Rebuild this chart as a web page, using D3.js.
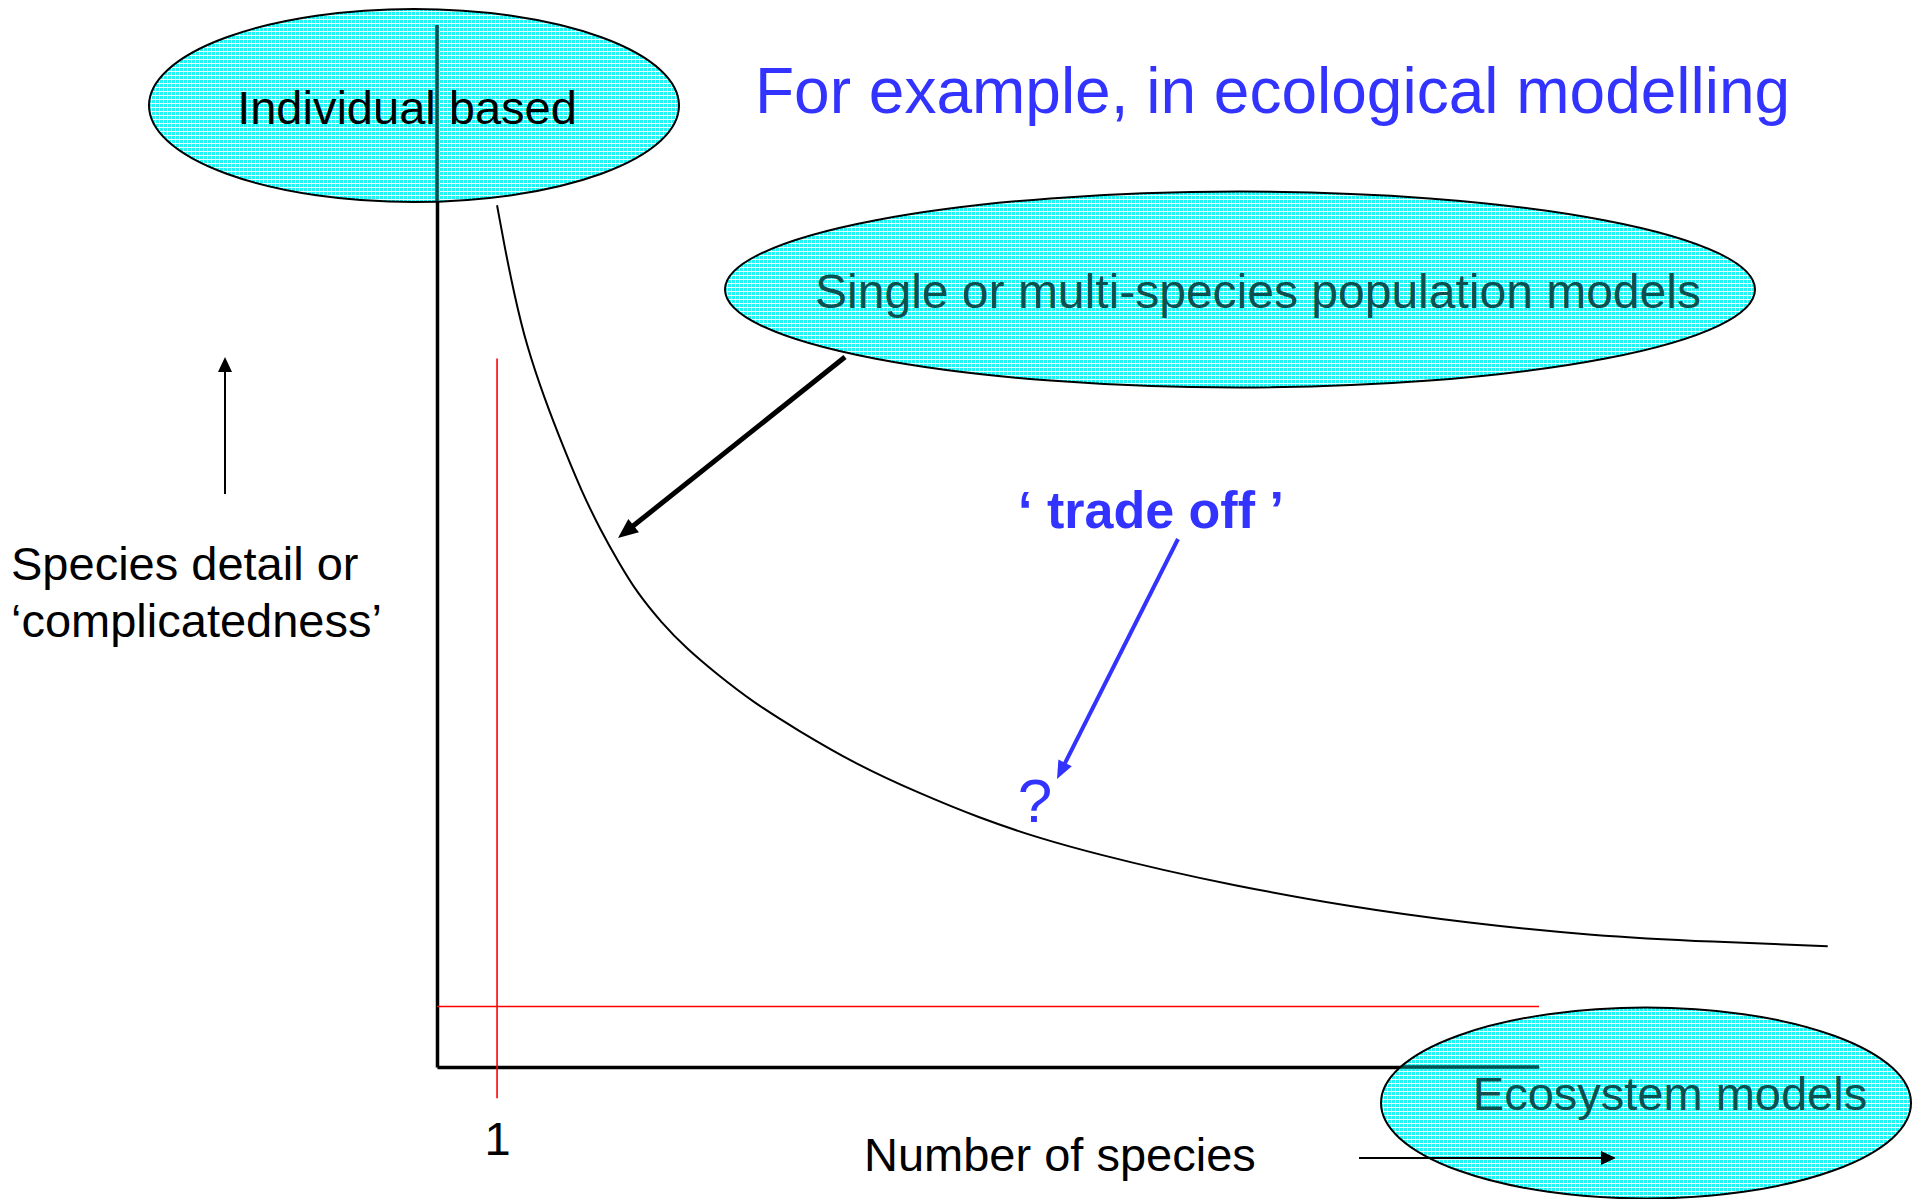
<!DOCTYPE html>
<html>
<head>
<meta charset="utf-8">
<script src="https://cdn.jsdelivr.net/npm/d3@7"></script>
<style>
  html, body { margin: 0; padding: 0; background: #fff; }
  svg { display: block; font-family: "Liberation Sans", Arial, Helvetica, sans-serif; }
</style>
</head>
<body>
<svg id="chart" width="1920" height="1199"></svg>
<script>
// --- data (axis units 0-100) ---
const speciesCount  = [5.45, 6.1, 7.0, 8.1, 9.8, 11.5, 13.1, 14.8, 16.5, 18.1, 20.4, 22.6, 25.4, 28.7, 32.6, 38.1, 43.7, 49.2, 54.8, 60.4, 65.9, 71.5, 82.6, 93.7, 104.8, 115.9, 126.2];
const speciesDetail = [82.7, 78.9, 74.2, 69.3, 64.0, 59.4, 55.3, 51.6, 48.4, 45.6, 42.6, 40.2, 37.7, 35.0, 32.4, 29.0, 26.3, 23.9, 21.9, 20.3, 18.9, 17.6, 15.4, 13.8, 12.6, 12.0, 11.6];
const xTickValues = [5.45];
const xTickLabels = ["1"];
const refDetail = [5.8];          // red horizontal reference level
const refSpan = [68, -3];         // red vertical reference extent
const modelLabels = ["Individual based", "Single or multi-species population models", "Ecosystem models"];
const titleText = "For example, in ecological modelling";
const yLabelLines = ["Species detail or", "\u2018complicatedness\u2019"];
const xLabelText = "Number of species";
const tradeOffText = "\u2018 trade off \u2019";

const BLUE = "#3333ff";
const TEAL_TEXT = "#0e4f4f";

const svg = d3.select("#chart");

// 1. scales
const x = d3.scaleLinear().domain([0, 100]).range([437, 1539]);
const y = d3.scaleLinear().domain([0, 100]).range([1067, 25]);

// 2. pattern for the ellipses (cyan grid, see-through gaps)
const defs = svg.append("defs");
const pat = defs.append("pattern")
    .attr("id", "grid")
    .attr("width", 4).attr("height", 4)
    .attr("patternUnits", "userSpaceOnUse");
pat.append("rect").attr("width", 4).attr("height", 4).attr("fill", "#c8ffff").attr("fill-opacity", 0.5);
pat.append("rect").attr("width", 3).attr("height", 3).attr("fill", "#1ef5f5");

const ellipses = [
    { cx: 414, cy: 105.5, rx: 265, ry: 96.5, tx: 407, ty: 124, color: "#000" },
    { cx: 1240, cy: 289.5, rx: 515, ry: 98, tx: 1258, ty: 308, color: TEAL_TEXT },
    { cx: 1646, cy: 1103, rx: 265, ry: 95.5, tx: 1670, ty: 1110, color: TEAL_TEXT }
];
const clip = defs.append("clipPath").attr("id", "inEllipse");
ellipses.forEach(e => {
    clip.append("ellipse").attr("cx", e.cx).attr("cy", e.cy).attr("rx", e.rx).attr("ry", e.ry);
});

// 3. axes
const xAxis = d3.axisBottom(x)
    .tickValues(xTickValues)
    .tickFormat((d, i) => xTickLabels[i])
    .tickSize(0)
    .tickSizeOuter(0)
    .tickPadding(55);
const gx = svg.append("g")
    .attr("transform", `translate(0,${y(0)})`)
    .call(xAxis);
gx.select(".domain").attr("stroke", "#000").attr("stroke-width", 3.5);
gx.selectAll("text")
    .attr("font-size", 47)
    .attr("font-family", "Liberation Sans, Arial, sans-serif")
    .attr("fill", "#000");

const gy = svg.append("g")
    .attr("transform", `translate(${x(0)},0)`)
    .call(d3.axisLeft(y).tickValues([]).tickSizeOuter(0));
gy.select(".domain").attr("stroke", "#000").attr("stroke-width", 3.5);

// 4. red reference lines
svg.append("line")
    .attr("x1", x(xTickValues[0])).attr("x2", x(xTickValues[0]))
    .attr("y1", y(refSpan[0])).attr("y2", y(refSpan[1]))
    .attr("stroke", "#ff0000").attr("stroke-width", 1.6);
svg.append("line")
    .attr("x1", x(0)).attr("x2", x(100))
    .attr("y1", y(refDetail[0])).attr("y2", y(refDetail[0]))
    .attr("stroke", "#ff0000").attr("stroke-width", 1.6);

// 5. trade-off curve
const pts = speciesCount.map((v, i) => [v, speciesDetail[i]]);
svg.append("path")
    .datum(pts)
    .attr("fill", "none")
    .attr("stroke", "#000")
    .attr("stroke-width", 2)
    .attr("d", d3.line().x(d => x(d[0])).y(d => y(d[1])).curve(d3.curveBasis));

// 6. model ellipses, axis seen through them
ellipses.forEach(e => {
    svg.append("ellipse")
        .attr("cx", e.cx).attr("cy", e.cy).attr("rx", e.rx).attr("ry", e.ry)
        .attr("fill", "url(#grid)")
        .attr("stroke", "none");
});
const seen = svg.append("g").attr("clip-path", "url(#inEllipse)");
seen.append("line")
    .attr("x1", x(0)).attr("x2", x(0)).attr("y1", y(100)).attr("y2", y(0))
    .attr("stroke", "#0b5050").attr("stroke-width", 3.5);
seen.append("line")
    .attr("x1", x(0)).attr("x2", x(100)).attr("y1", y(0)).attr("y2", y(0))
    .attr("stroke", "#0b5050").attr("stroke-width", 3.5);
ellipses.forEach((e, i) => {
    svg.append("ellipse")
        .attr("cx", e.cx).attr("cy", e.cy).attr("rx", e.rx).attr("ry", e.ry)
        .attr("fill", "none")
        .attr("stroke", "#000").attr("stroke-width", 2);
    svg.append("text")
        .attr("x", e.tx).attr("y", e.ty)
        .attr("text-anchor", "middle")
        .attr("font-size", i === 1 ? 48 : 47)
        .attr("fill", e.color)
        .text(modelLabels[i]);
});

// 7. arrows
function arrow(p0, p1, color, w, headL, headW) {
    const dx = p1[0] - p0[0], dy = p1[1] - p0[1];
    const len = Math.hypot(dx, dy), ux = dx / len, uy = dy / len;
    const bx = p1[0] - ux * headL, by = p1[1] - uy * headL;
    svg.append("line")
        .attr("x1", p0[0]).attr("y1", p0[1])
        .attr("x2", bx + ux * 2).attr("y2", by + uy * 2)
        .attr("stroke", color).attr("stroke-width", w);
    svg.append("path")
        .attr("d", `M${p1[0]},${p1[1]}L${bx - uy * headW / 2},${by + ux * headW / 2}L${bx + uy * headW / 2},${by - ux * headW / 2}Z`)
        .attr("fill", color);
}
arrow([845, 357], [618, 538], "#000", 5, 20, 17);
arrow([1178, 539], [1057, 779], BLUE, 4, 18, 15);
arrow([225, 494], [225, 357], "#000", 2, 15, 14);
arrow([1359, 1158], [1616, 1158], "#000", 2, 15, 14);

// 8. other texts
svg.append("text")
    .attr("x", 755).attr("y", 113)
    .attr("font-size", 64)
    .attr("fill", BLUE)
    .text(titleText);

svg.append("text")
    .attr("x", 1151).attr("y", 528)
    .attr("text-anchor", "middle")
    .attr("font-size", 52)
    .attr("font-weight", "bold")
    .attr("fill", BLUE)
    .text(tradeOffText);

svg.append("text")
    .attr("x", 1035).attr("y", 822)
    .attr("text-anchor", "middle")
    .attr("font-size", 62)
    .attr("fill", BLUE)
    .text("?");

yLabelLines.forEach((t, i) => {
    svg.append("text")
        .attr("x", 11).attr("y", 580 + i * 57)
        .attr("font-size", 47)
        .attr("fill", "#000")
        .text(t);
});

svg.append("text")
    .attr("x", 864).attr("y", 1171)
    .attr("font-size", 47)
    .attr("fill", "#000")
    .text(xLabelText);
</script>
</body>
</html>
